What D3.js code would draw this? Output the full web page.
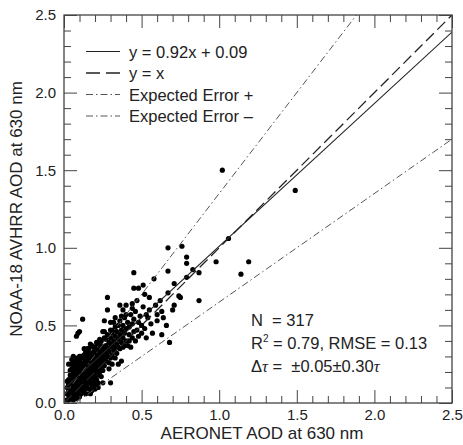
<!DOCTYPE html>
<html><head><meta charset="utf-8">
<script src="https://cdn.jsdelivr.net/npm/d3@7"></script>
<style>body{margin:0;background:#fff}svg{display:block}text{font-family:"Liberation Sans",Arial,Helvetica,sans-serif;fill:#222}</style>
</head><body><svg id="c" width="463" height="445"></svg>
<script>
// AERONET AOD (x) / NOAA-18 AVHRR AOD (y) pairs
const aeronetAOD = [
0.02,0.03,0.03,0.04,0.04,0.04,0.05,0.05,0.05,0.05,0.06,0.06,0.06,0.06,0.06,0.07,0.07,0.07,0.07,0.07,
0.08,0.08,0.08,0.08,0.08,0.09,0.09,0.09,0.09,0.09,0.10,0.10,0.10,0.10,0.10,0.10,0.11,0.11,0.11,0.11,
0.12,0.12,0.12,0.12,0.12,0.03,0.04,0.05,0.06,0.07,0.08,0.08,0.09,0.10,0.11,0.11,0.12,0.12,0.05,0.06,
0.07,0.09,0.10,0.11,0.04,0.05,0.06,0.07,0.08,0.09,0.10,0.11,0.12,0.03,0.04,0.05,0.06,0.07,0.08,0.09,
0.02,0.02,0.03,0.04,0.06,0.07,0.08,0.09,0.10,0.11,0.12,0.13,0.13,0.13,0.13,0.13,0.13,0.14,0.14,0.14,
0.14,0.14,0.14,0.15,0.15,0.15,0.15,0.15,0.16,0.16,0.16,0.16,0.16,0.16,0.17,0.17,0.17,0.17,0.17,0.18,
0.18,0.18,0.18,0.18,0.18,0.19,0.19,0.19,0.19,0.19,0.20,0.20,0.20,0.20,0.20,0.20,0.21,0.21,0.21,0.21,
0.21,0.22,0.22,0.22,0.22,0.22,0.23,0.23,0.23,0.23,0.24,0.24,0.24,0.24,0.24,0.25,0.25,0.25,0.25,0.26,
0.26,0.26,0.26,0.15,0.17,0.19,0.21,0.23,0.18,0.20,0.22,0.14,0.16,0.19,0.25,0.26,0.23,0.21,0.27,0.27,
0.27,0.27,0.28,0.28,0.28,0.29,0.29,0.29,0.30,0.30,0.30,0.30,0.31,0.31,0.31,0.32,0.32,0.32,0.33,0.33,
0.33,0.34,0.34,0.35,0.35,0.35,0.36,0.36,0.37,0.37,0.38,0.38,0.38,0.39,0.39,0.40,0.40,0.41,0.41,0.42,
0.42,0.43,0.43,0.44,0.44,0.45,0.45,0.46,0.46,0.47,0.48,0.48,0.49,0.50,0.50,0.34,0.36,0.39,0.42,0.29,
0.31,0.33,0.32,0.37,0.40,0.44,0.52,0.53,0.54,0.55,0.08,0.09,0.10,0.12,0.28,0.28,0.36,0.40,0.44,0.47,
0.45,0.48,0.51,0.52,0.45,0.58,0.59,0.60,0.63,0.66,0.63,0.56,0.57,0.60,0.68,0.67,0.67,0.67,0.71,0.71,
0.74,0.75,0.76,0.79,0.79,0.79,0.83,0.87,0.87,0.98,1.06,1.02,1.49,1.14,1.19,0.30,0.37,0.35,0.25,0.22,
0.26,0.30,0.33,0.38,0.51,0.55,0.62,0.64,0.70,0.53,0.05,0.06,0.03,0.02,0.13,0.17,0.24
];
const avhrrAOD = [
0.02,0.05,0.08,0.03,0.10,0.14,0.06,0.12,0.18,0.22,0.04,0.09,0.15,0.20,0.25,0.07,0.11,0.17,0.23,0.27,
0.05,0.13,0.19,0.22,0.26,0.08,0.12,0.16,0.21,0.28,0.06,0.10,0.14,0.18,0.24,0.30,0.09,0.13,0.20,0.26,
0.07,0.11,0.16,0.22,0.29,0.12,0.18,0.09,0.12,0.14,0.10,0.16,0.19,0.21,0.16,0.23,0.19,0.25,0.15,0.18,
0.20,0.24,0.27,0.30,0.07,0.03,0.07,0.09,0.08,0.10,0.12,0.11,0.13,0.15,0.21,0.25,0.22,0.25,0.29,0.26,
0.06,0.10,0.02,0.05,0.02,0.04,0.03,0.05,0.04,0.06,0.09,0.08,0.12,0.17,0.21,0.26,0.31,0.10,0.14,0.19,
0.24,0.28,0.33,0.12,0.16,0.21,0.26,0.30,0.09,0.14,0.19,0.23,0.28,0.35,0.13,0.17,0.22,0.27,0.32,0.11,
0.16,0.20,0.25,0.30,0.37,0.14,0.19,0.23,0.28,0.33,0.12,0.17,0.21,0.26,0.31,0.36,0.15,0.20,0.24,0.29,
0.34,0.18,0.22,0.27,0.32,0.38,0.20,0.25,0.30,0.35,0.17,0.23,0.28,0.33,0.40,0.21,0.26,0.31,0.36,0.24,
0.29,0.34,0.42,0.35,0.38,0.25,0.27,0.22,0.08,0.09,0.13,0.06,0.32,0.36,0.46,0.46,0.41,0.39,0.37,0.32,
0.27,0.41,0.30,0.35,0.44,0.26,0.33,0.39,0.29,0.36,0.42,0.47,0.31,0.38,0.45,0.34,0.40,0.52,0.36,0.43,
0.49,0.38,0.46,0.41,0.50,0.36,0.44,0.53,0.39,0.47,0.42,0.50,0.36,0.45,0.55,0.40,0.48,0.37,0.52,0.44,
0.49,0.36,0.57,0.42,0.51,0.46,0.54,0.40,0.59,0.47,0.43,0.52,0.56,0.45,0.50,0.32,0.35,0.37,0.40,0.22,
0.25,0.29,0.47,0.56,0.57,0.61,0.48,0.42,0.55,0.60,0.43,0.45,0.46,0.54,0.68,0.60,0.63,0.63,0.64,0.66,
0.74,0.74,0.76,0.70,0.84,0.80,0.63,0.57,0.59,0.50,0.44,0.51,0.45,0.53,0.39,0.71,0.85,1.00,0.77,0.63,
0.69,0.68,1.01,0.94,0.90,0.81,0.86,0.84,0.66,0.91,1.06,1.50,1.37,0.83,0.91,0.13,0.27,0.25,0.13,0.10,
0.53,0.52,0.55,0.60,0.62,0.68,0.66,0.55,0.60,0.57,0.28,0.30,0.25,0.14,0.35,0.06,0.37
];
const majorTicks = [0, 0.5, 1.0, 1.5, 2.0, 2.5];
const tickLabels = ["0.0", "0.5", "1.0", "1.5", "2.0", "2.5"];
const fitSlope = 0.92, fitIntercept = 0.09;
const eeAbs = 0.05, eeRel = 0.30;
const legendLabels = ["y = 0.92x + 0.09", "y = x", "Expected Error +", "Expected Error \u2013"];
const xTitle = "AERONET AOD at 630 nm";
const yTitle = "NOAA-18 AVHRR AOD at 630 nm";

const svg = d3.select("#c");
const L = 64, R = 452, T = 15, B = 403;
const x = d3.scaleLinear().domain([0, 2.5]).range([L, R]);
const y = d3.scaleLinear().domain([0, 2.5]).range([B, T]);

svg.append("defs").append("clipPath").attr("id", "clip")
  .append("rect").attr("x", L).attr("y", T).attr("width", R - L).attr("height", B - T);

// points
const pts = aeronetAOD.map((v, i) => [v, avhrrAOD[i]]);
svg.append("g").selectAll("circle").data(pts).join("circle")
  .attr("cx", d => x(d[0])).attr("cy", d => y(d[1])).attr("r", 2.6).attr("fill", "#000");

// lines
const lines = [
  {f: v => fitSlope * v + fitIntercept, dash: null, w: 1.1, c: "#222"},
  {f: v => v, dash: "11,5", w: 1.3, c: "#222"},
  {f: v => v + eeAbs + eeRel * v, dash: "7,3,1.5,3", w: 1, c: "#555"},
  {f: v => v - eeAbs - eeRel * v, dash: "7,3,1.5,3", w: 1, c: "#555"}
];
const lg = svg.append("g").attr("clip-path", "url(#clip)");
lines.forEach(l => {
  lg.append("line").attr("x1", x(0)).attr("y1", y(l.f(0))).attr("x2", x(2.5)).attr("y2", y(l.f(2.5)))
    .attr("stroke", l.c).attr("stroke-width", l.w).attr("stroke-dasharray", l.dash);
});

// axes with inward ticks on all four sides
const minorVals = d3.range(0, 2.501, 0.1).filter(v => Math.abs(v * 2 - Math.round(v * 2)) > 1e-6);
function addAxis(axisFn, scale, tr, showLabels) {
  const g = svg.append("g").attr("transform", tr);
  g.call(axisFn(scale).tickValues(majorTicks).tickSizeInner(-13).tickSizeOuter(0)
    .tickFormat((d, i) => showLabels ? tickLabels[i] : ""));
  g.append("g").call(axisFn(scale).tickValues(minorVals).tickSizeInner(-7).tickSizeOuter(0).tickFormat(""))
    .select(".domain").remove();
  g.selectAll("line").attr("stroke", "#444").attr("stroke-width", 1);
  g.selectAll(".domain").remove();
  g.selectAll("text").attr("font-size", 15).attr("fill", "#222").attr("font-family", "Liberation Sans, Arial, sans-serif");
  return g;
}
const gx = addAxis(d3.axisBottom, x, `translate(0,${B})`, true);
gx.selectAll("text").attr("dy", null).attr("y", 17);
const gy = addAxis(d3.axisLeft, y, `translate(${L},0)`, true);
gy.selectAll("text").attr("x", -8);
addAxis(d3.axisTop, x, `translate(0,${T})`, false);
addAxis(d3.axisRight, y, `translate(${R},0)`, false);

svg.append("rect").attr("x", L).attr("y", T).attr("width", R - L).attr("height", B - T)
  .attr("fill", "none").attr("stroke", "#444").attr("stroke-width", 1.3);

// titles
svg.append("text").attr("x", (L + R) / 2 + 4).attr("y", 439).attr("text-anchor", "middle")
  .attr("font-size", 17).text(xTitle);
svg.append("text").attr("transform", `translate(22,${(T + B) / 2}) rotate(-90)`).attr("text-anchor", "middle")
  .attr("font-size", 17).text(yTitle);

// legend
const legY = [51.5, 73, 94.5, 116];
const leg = svg.append("g");
lines.forEach((l, i) => {
  leg.append("line").attr("x1", 86).attr("x2", 120).attr("y1", legY[i]).attr("y2", legY[i])
    .attr("stroke", l.c).attr("stroke-width", l.w).attr("stroke-dasharray", i === 1 ? "14,6" : l.dash);
  leg.append("text").attr("x", 129).attr("y", legY[i] + 6).attr("font-size", 16.5).text(legendLabels[i]);
});

// statistics annotation
const ann = svg.append("g").attr("font-size", 16.5);
ann.append("text").attr("x", 251).attr("y", 326).text("N\u00a0\u00a0= 317");
const t2 = ann.append("text").attr("x", 251).attr("y", 349);
t2.append("tspan").text("R");
t2.append("tspan").attr("font-size", 10).attr("dy", -7).text("2");
t2.append("tspan").attr("dy", 7).text(" = 0.79, RMSE = 0.13");
const t3 = ann.append("text").attr("x", 251).attr("y", 372);
t3.append("tspan").text("\u0394");
t3.append("tspan").attr("font-style", "italic").attr("font-family", "Liberation Serif, serif").text("\u03c4");
t3.append("tspan").text("\u00a0=\u00a0 \u00b10.05\u00b10.30");
t3.append("tspan").attr("font-style", "italic").attr("font-family", "Liberation Serif, serif").text("\u03c4");
</script></body></html>
